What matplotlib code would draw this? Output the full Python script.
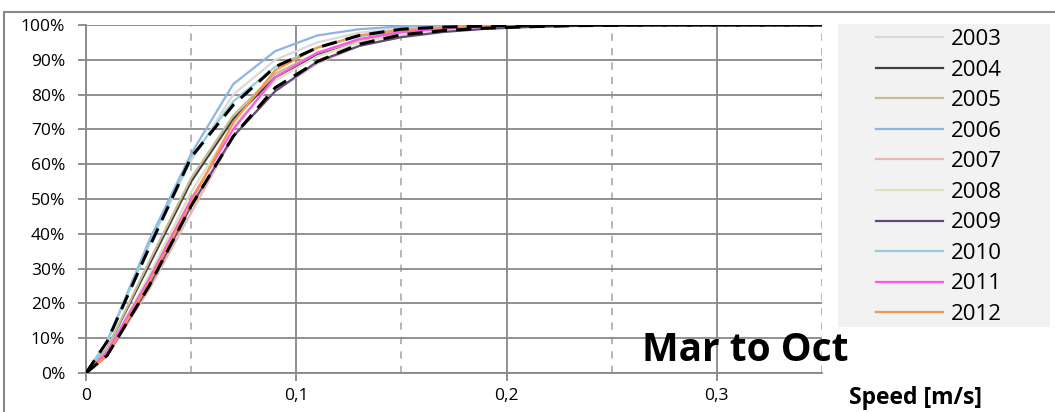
import matplotlib
matplotlib.use('Agg')
import matplotlib.pyplot as plt
from matplotlib.patches import Rectangle

plt.rcParams['font.family'] = ['Open Sans', 'DejaVu Sans']

# speed bins [m/s] and cumulative share [%] per year
speed = [0, 0.01, 0.03, 0.05, 0.07, 0.09, 0.11, 0.13, 0.15, 0.17, 0.19,
         0.21, 0.23, 0.25, 0.27, 0.29, 0.31, 0.33, 0.35]

y2003 = [0, 9, 37, 61, 80, 90, 95, 97.8, 99, 99.6, 99.8, 99.9, 100, 100, 100, 100, 100, 100, 100]
y2004 = [0, 7, 31, 55, 73, 85, 91.5, 95.5, 97.5, 98.5, 99.2, 99.6, 99.8, 99.9, 100, 100, 100, 100, 100]
y2005 = [0, 7, 32, 56, 74, 86, 92, 95.5, 97.5, 98.6, 99.3, 99.7, 99.9, 100, 100, 100, 100, 100, 100]
y2006 = [0, 9, 38, 63, 83, 92.5, 97, 98.8, 99.6, 99.9, 100, 100, 100, 100, 100, 100, 100, 100, 100]
y2007 = [0, 5, 24, 46, 68, 81, 89, 94, 96.8, 98.2, 99, 99.5, 99.8, 99.9, 100, 100, 100, 100, 100]
y2008 = [0, 6, 28, 52, 71, 84, 91, 95, 97.3, 98.5, 99.2, 99.6, 99.8, 100, 100, 100, 100, 100, 100]
y2009 = [0, 5, 25, 48, 68, 81, 89.5, 94, 96.5, 98, 98.9, 99.4, 99.7, 99.9, 100, 100, 100, 100, 100]
y2010 = [0, 9, 37, 62, 78, 88, 93.5, 96.8, 98.3, 99.1, 99.6, 99.8, 100, 100, 100, 100, 100, 100, 100]
y2011 = [0, 6, 27, 50, 70, 85, 92, 96, 98, 99, 99.5, 99.8, 100, 100, 100, 100, 100, 100, 100]
y2012 = [0, 5, 26, 49, 72, 87, 93.5, 97, 98.6, 99.3, 99.7, 99.9, 100, 100, 100, 100, 100, 100, 100]
upper = [0, 9, 36, 62, 77, 88, 93.5, 97, 98.8, 99.4, 99.7, 99.9, 100, 100, 100, 100, 100, 100, 100]
lower = [0, 5, 25, 48, 68, 82, 89.5, 94.5, 97.2, 98.4, 99.1, 99.5, 99.8, 99.9, 100, 100, 100, 100, 100]

years = ['2003', '2004', '2005', '2006', '2007', '2008', '2009', '2010', '2011', '2012']
series = [y2003, y2004, y2005, y2006, y2007, y2008, y2009, y2010, y2011, y2012]
colors = ['#d9d9d9', '#404040', '#c4bd97', '#8eb4e3', '#e6b9b8',
          '#d7e4bd', '#604a7b', '#93cddd', '#ff55ee', '#f79646']

W, H = 1055, 412
fig = plt.figure(figsize=(W / 100, H / 100), dpi=100)
ax = fig.add_axes([86 / W, (H - 373) / H, (822 - 86) / W, (373 - 25) / H])

# outer frame of the chart object
fig.patches.append(Rectangle((4 / W, -0.1), 1.2, (H - 12) / H + 0.1,
                             transform=fig.transFigure, fill=False,
                             edgecolor='#888888', linewidth=1.5, zorder=0))

lines = []
for lbl, vals, c in zip(years, series, colors):
    ln, = ax.plot(speed, vals, color=c, lw=1.6, label=lbl, zorder=3)
    lines.append(ln)
ax.plot(speed, upper, color='black', lw=2.2, ls=(0, (5, 3)), zorder=4)
ax.plot(speed, lower, color='black', lw=2.2, ls=(0, (5, 3)), zorder=4)

ax.set_xlim(0, 0.35)
ax.set_ylim(0, 100)
ax.set_xticks([0, 0.1, 0.2, 0.3])
ax.set_xticklabels(['0', '0,1', '0,2', '0,3'])
ax.set_xticks([0.05, 0.15, 0.25, 0.35], minor=True)
ax.set_yticks(range(0, 101, 10))
ax.set_yticklabels([f'{v}%' for v in range(0, 101, 10)])

ax.grid(True, which='major', color='#888888', lw=1.3, zorder=1)
ax.grid(True, which='minor', axis='x', color='#b0b0b0', lw=1.3,
        ls=(0, (4, 4)), zorder=1)
ax.tick_params(which='major', length=6, width=1.3, color='#888888',
               labelsize=12.5, labelcolor='black')
ax.tick_params(axis='y', pad=9)
ax.tick_params(axis='x', pad=5)
ax.tick_params(which='minor', length=0)
for s in ['top', 'right']:
    ax.spines[s].set_visible(False)
for s in ['left', 'bottom']:
    ax.spines[s].set_color('#888888')
    ax.spines[s].set_linewidth(1.3)

# legend panel
fig.patches.append(Rectangle((838 / W, (H - 327) / H), (1050 - 838) / W, (327 - 24) / H,
                             transform=fig.transFigure, facecolor='#f2f2f2',
                             edgecolor='none', zorder=0))
fig.legend(handles=lines, loc='upper left',
           bbox_to_anchor=(876 / W, (H - 29) / H), frameon=False,
           fontsize=16, handlelength=3.0, handletextpad=0.35,
           labelspacing=0.43, borderpad=0, borderaxespad=0)

fig.text(745 / W, (H - 361) / H, 'Mar to Oct', ha='center', va='baseline',
         fontsize=28, fontweight='bold')
fig.text(849 / W, (H - 398) / H, 'Speed [m/s]', ha='left', va='center',
         fontsize=16.5, fontweight='bold')

fig.savefig('out.png', dpi=100)
